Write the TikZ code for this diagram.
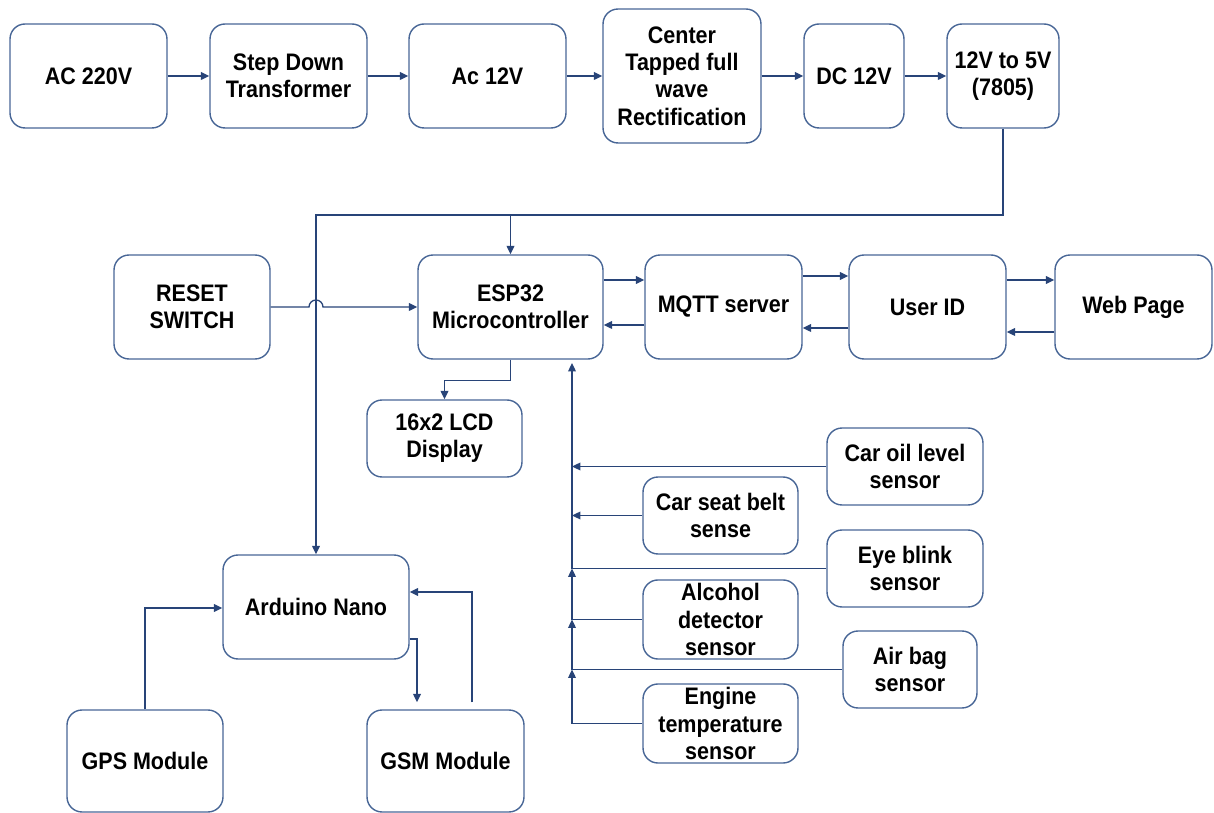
\documentclass[tikz,border=0pt]{standalone}
\usepackage{fontspec}
\setmainfont{Liberation Sans}[FakeStretch=0.9]
\usetikzlibrary{arrows.meta}

\definecolor{boxblue}{RGB}{72,102,150}
\definecolor{wireblue}{RGB}{40,68,120}

\tikzset{
  block/.style={draw=boxblue, line width=0.8pt, rounded corners=0.3cm, align=center,
    inner sep=2pt, font=\fontsize{13.6}{15.5}\selectfont\bfseries},
  wire/.style={draw=wireblue, line width=0.75pt, -{Triangle[length=4.8pt,width=4.4pt]}},
  plain/.style={draw=wireblue, line width=0.75pt}
}

\begin{document}
\begin{tikzpicture}[x=0.02cm, y=-0.02cm]
\useasboundingbox (0,0) rectangle (1214,813);

% power supply chain
\node[block, minimum width=3.14cm, minimum height=2.08cm] (ac220) at (88.5,76) {AC 220V};
\node[block, minimum width=3.14cm, minimum height=2.08cm] (stepdown) at (288.5,76) {Step Down\\Transformer};
\node[block, minimum width=3.14cm, minimum height=2.08cm] (ac12) at (487.5,76) {Ac 12V};
\node[block, minimum width=3.16cm, minimum height=2.68cm] (rectifier) at (682,76) {Center\\Tapped full\\wave\\Rectification};
\node[block, minimum width=2.0cm, minimum height=2.08cm] (dc12) at (854,76) {DC 12V};
\node[block, minimum width=2.24cm, minimum height=2.08cm] (regulator) at (1003,76) {12V to 5V\\(7805)};

\draw[wire] (ac220) -- (stepdown);
\draw[wire] (stepdown) -- (ac12);
\draw[wire] (ac12) -- (rectifier);
\draw[wire] (rectifier) -- (dc12);
\draw[wire] (dc12) -- (regulator);

% controller row
\node[block, minimum width=3.12cm, minimum height=2.08cm] (reset) at (192,307) {RESET\\SWITCH};
\node[block, minimum width=3.7cm, minimum height=2.08cm] (esp) at (510.5,307) {ESP32\\Microcontroller};
\node[block, minimum width=3.14cm, minimum height=2.08cm] (mqtt) at (723.5,307) {MQTT server};
\node[block, minimum width=3.14cm, minimum height=2.08cm] (userid) at (927.5,307) {User ID};
\node[block, minimum width=3.14cm, minimum height=2.08cm] (webpage) at (1133.5,307) {Web Page};
\node[block, minimum width=3.1cm, minimum height=1.54cm] (lcd) at (444.5,438.5) {16x2 LCD\\Display};

% sensors
\node[block, minimum width=3.12cm, minimum height=1.54cm] (oil) at (905,466.5) {Car oil level\\sensor};
\node[block, minimum width=3.1cm, minimum height=1.54cm] (belt) at (720.5,515.5) {Car seat belt\\sense};
\node[block, minimum width=3.12cm, minimum height=1.54cm] (eye) at (905,568.5) {Eye blink\\sensor};
\node[block, minimum width=3.1cm, minimum height=1.54cm] (alcohol) at (720.5,619.5) {Alcohol\\detector\\sensor};
\node[block, minimum width=2.68cm, minimum height=1.54cm] (airbag) at (910,669.5) {Air bag\\sensor};
\node[block, minimum width=3.1cm, minimum height=1.54cm] (engine) at (720.5,723.5) {Engine\\temperature\\sensor};

% tracking part
\node[block, minimum width=3.72cm, minimum height=2.08cm] (arduino) at (316,607) {Arduino Nano};
\node[block, minimum width=3.12cm, minimum height=2.04cm] (gps) at (145,761) {GPS Module};
\node[block, minimum width=3.14cm, minimum height=2.04cm] (gsm) at (445.5,761) {GSM Module};

% 5V supply lines
\coordinate (pwr) at (1003,215);
\draw[wire] (regulator.south) -- (pwr) -| (arduino.north);
\draw[wire] (esp.north |- pwr) -- (esp.north);

% reset line hops over the supply line
\draw[wire] (reset.east) -- (309,307) arc (180:360:7) -- (esp.west);

% cloud links
\draw[wire] ([yshift=0.54cm]esp.east) -- ([yshift=0.54cm]mqtt.west);
\draw[wire] ([yshift=-0.36cm]mqtt.west) -- ([yshift=-0.36cm]esp.east);
\draw[wire] ([yshift=0.62cm]mqtt.east) -- ([yshift=0.62cm]userid.west);
\draw[wire] ([yshift=-0.42cm]userid.west) -- ([yshift=-0.42cm]mqtt.east);
\draw[wire] ([yshift=0.54cm]userid.east) -- ([yshift=0.54cm]webpage.west);
\draw[wire] ([yshift=-0.5cm]webpage.west) -- ([yshift=-0.5cm]userid.east);

% display
\draw[wire] (esp.south) -- ++(0,21) -| (lcd.north);

% sensor bus
\coordinate (sbus) at (572,363);
\draw[wire] (oil.west) -- (oil.west -| sbus);
\draw[wire] (belt.west) -- (belt.west -| sbus);
\draw[wire] (eye.west) -| (sbus);
\draw[wire] (alcohol.west) -| (eye.west -| sbus);
\draw[wire] (airbag.west) -| (alcohol.west -| sbus);
\draw[wire] (engine.west) -| (airbag.west -| sbus);

% gps and gsm
\draw[wire] (gps.north) |- ([yshift=-0.02cm]arduino.west);
\draw[wire] ([yshift=-0.64cm]arduino.east) -| ([xshift=-0.57cm,yshift=0.14cm]gsm.north);
\draw[wire] ([xshift=0.53cm,yshift=0.14cm]gsm.north) |- ([yshift=0.3cm]arduino.east);

\end{tikzpicture}
\end{document}
